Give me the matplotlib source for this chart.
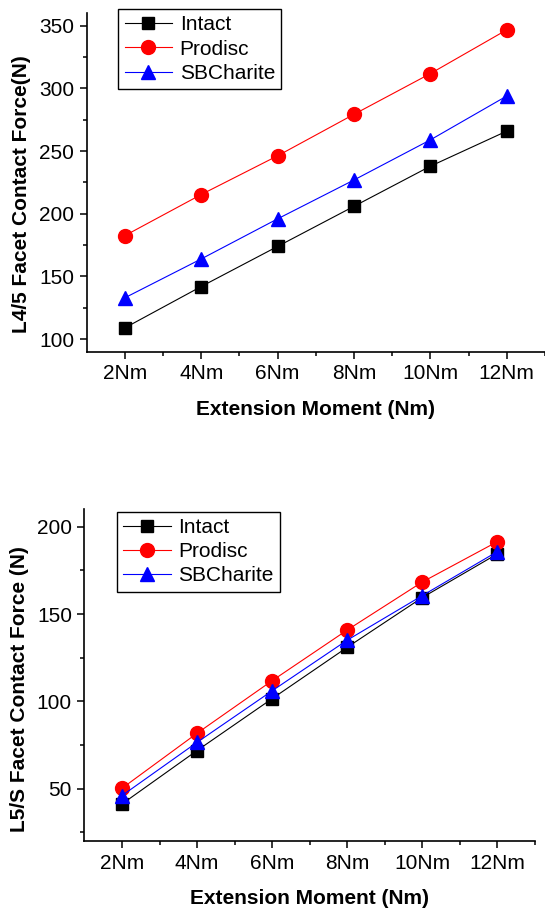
import matplotlib.pyplot as plt
import numpy as np

plt.rcParams['font.family'] = ['Liberation Sans', 'DejaVu Sans']

moments = ['2Nm', '4Nm', '6Nm', '8Nm', '10Nm', '12Nm']

# L4/5 facet contact force (N)
l45_intact = [109, 142, 174, 206, 238, 266]
l45_prodisc = [182.6, 215.4, 246.3, 279.4, 311.9, 346.8]
l45_charite = [133, 164, 196, 227, 259, 294]

# L5/S facet contact force (N)
l5s_intact = [41.2, 71.8, 101.5, 130.9, 159.4, 184.4]
l5s_prodisc = [50.2, 81.7, 111.8, 140.8, 168.3, 191.4]
l5s_charite = [46, 76.5, 106, 135, 160.5, 185.7]

fig = plt.figure(figsize=(5.45, 9.09), dpi=100)
ax1 = fig.add_axes([0.159, 0.6131, 0.841, 0.3723])
ax2 = fig.add_axes([0.155, 0.0748, 0.826, 0.3649])

x = np.arange(len(moments))
FS = 15


def draw(ax, intact, prodisc, charite, ylim, yticks, ylabel, label_y, leg_anchor):
    ax.plot(x, intact, color='black', lw=0.8, marker='s', ms=9, label='Intact')
    ax.plot(x, prodisc, color='red', lw=0.8, marker='o', ms=10, label='Prodisc')
    ax.plot(x, charite, color='blue', lw=0.8, marker='^', ms=10.5, label='SBCharite')
    ax.set_xlim(-0.5, 5.5)
    ax.set_ylim(*ylim)
    ax.set_xticks(x)
    ax.set_xticklabels(moments)
    ax.set_xticks(x + 0.5, minor=True)
    step = yticks[1] - yticks[0]
    ax.set_yticks(yticks)
    mn = [v - step / 2.0 for v in yticks] + [yticks[-1] + step / 2.0]
    ax.set_yticks([v for v in mn if ylim[0] <= v <= ylim[1]], minor=True)
    for s in ['top', 'right']:
        ax.spines[s].set_visible(False)
    for s in ['left', 'bottom']:
        ax.spines[s].set_linewidth(1.2)
    ax.tick_params(which='major', direction='out', length=5, width=1.1, labelsize=FS, pad=4)
    ax.tick_params(which='minor', direction='out', length=3, width=1.1)
    ax.set_xlabel('Extension Moment (Nm)', fontsize=FS, fontweight='bold', labelpad=12)
    ax.set_ylabel(ylabel, fontsize=FS, fontweight='bold', labelpad=6)
    ax.yaxis.label.set_y(label_y)
    leg = ax.legend(loc='upper left', bbox_to_anchor=leg_anchor, borderaxespad=0,
                    fontsize=FS, fancybox=False, framealpha=1, edgecolor='black',
                    handlelength=2.3, handletextpad=0.35, labelspacing=0.25, borderpad=0.3)
    leg.get_frame().set_linewidth(1.0)


draw(ax1, l45_intact, l45_prodisc, l45_charite, (90, 360), [100, 150, 200, 250, 300, 350],
     'L4/5 Facet Contact Force(N)', 0.467, (0.069, 1.012))
draw(ax2, l5s_intact, l5s_prodisc, l5s_charite, (20, 210), [50, 100, 150, 200],
     'L5/S Facet Contact Force (N)', 0.458, (0.0715, 0.993))

fig.savefig('out.png', dpi=100)
